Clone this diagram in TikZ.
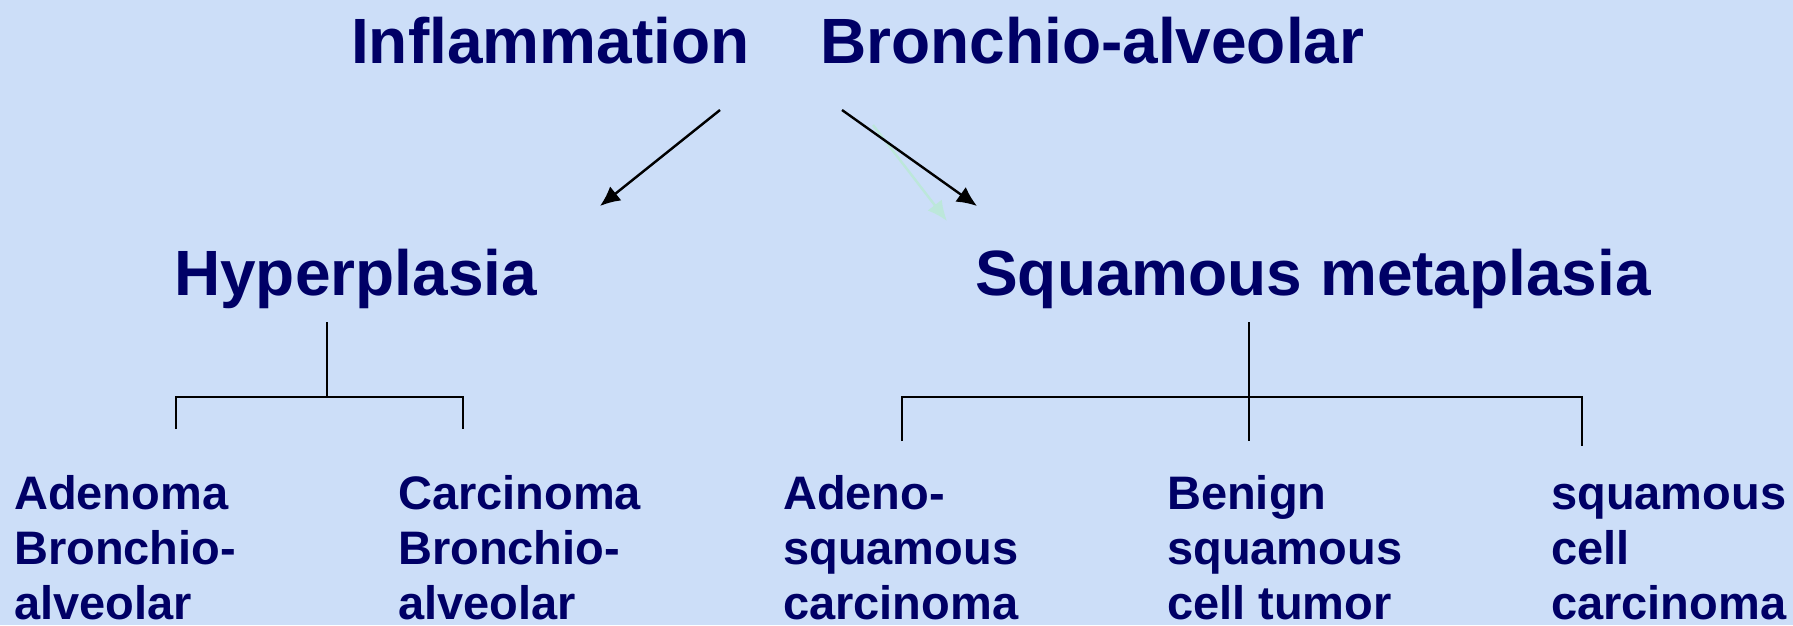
\documentclass[tikz,border=0pt]{standalone}
\usepackage{fontspec}
\setmainfont{Liberation Sans}
\usetikzlibrary{arrows.meta}
\definecolor{slidebg}{RGB}{204,222,248}
\definecolor{navy}{RGB}{0,0,102}
\definecolor{ghost}{RGB}{188,231,218}
\begin{document}
\begin{tikzpicture}[x=1pt,y=-1pt, every node/.style={inner sep=0pt,text=navy,font=\bfseries},
head/.style={anchor=base west,font=\fontsize{64}{70}\selectfont\bfseries},
leaf/.style={anchor=base west,align=left,font=\fontsize{47}{55}\selectfont\bfseries},
tree/.style={line width=1.4pt},
arr/.style={line width=2.4pt,-{Latex[length=20pt,width=18pt]}}]
\fill[slidebg] (0,0) rectangle (1793,625);
\useasboundingbox (0,0) rectangle (1793,625);

\node[head] (infl) at (351,63) {Inflammation};
\node[head] (bronch) at (820,63) {Bronchio-alveolar};
\node[head] (hyper) at (174,295) {Hyperplasia};
\node[head] (squam) at (975,295) {Squamous metaplasia};

% base anchor sits on the last line
\node[leaf] (adenoma) at (14,619) {Adenoma\\Bronchio-\\alveolar};
\node[leaf] (carcinoma) at (398,619) {Carcinoma\\Bronchio-\\alveolar};
\node[leaf] (adenosq) at (783,619) {Adeno-\\squamous\\carcinoma};
\node[leaf] (benign) at (1167,619) {Benign\\squamous\\cell tumor};
\node[leaf] (sqcell) at (1551,619) {squamous\\cell\\carcinoma};

\coordinate (a1s) at (720,110);
\coordinate (a1e) at (600,206);
\coordinate (a2s) at (842,110);
\coordinate (a2e) at (977,206);
\coordinate (a3s) at (873,125);
\coordinate (a3e) at (947,221);
\draw[arr,ghost] (a3s) -- (a3e);
\draw[arr] (a1s) -- (a1e);
\draw[arr] (a2s) -- (a2e);

\coordinate (hj) at (327,322);
\coordinate (hl) at (176,397);
\coordinate (hr) at (463,397);
\draw[tree] (hj) -- (hj |- hl);
\draw[tree] (hl) ++(0,32) -- (hl) -- (hr) -- ++(0,32);

\coordinate (sj) at (1249,322);
\coordinate (sl) at (902,397);
\coordinate (sr) at (1582,397);
\draw[tree] (sj) -- (1249,441);
\draw[tree] (sl) ++(0,44) -- (sl) -- (sr) -- ++(0,49);
\end{tikzpicture}
\end{document}
